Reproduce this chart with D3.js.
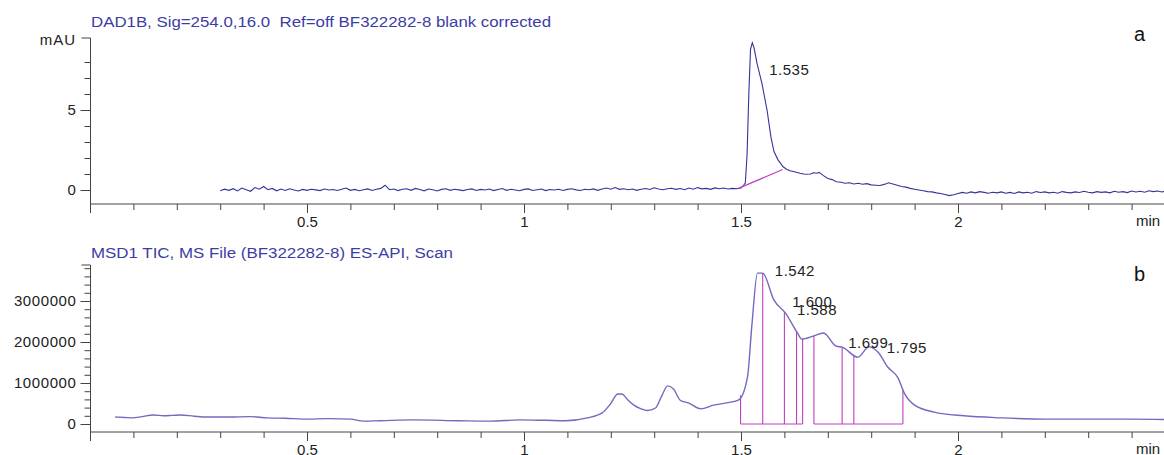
<!DOCTYPE html>
<html>
<head>
<meta charset="utf-8">
<script src="https://cdn.jsdelivr.net/npm/d3@7"></script>
<style>
  body { margin: 0; background: #fff; }
  svg text { font-family: "Liberation Sans", Arial, sans-serif; white-space: pre; }
</style>
</head>
<body>
<div id="plot"></div>
<script>
// DAD 254 nm trace, [min, mAU]
const dadTrace = [
  [0.30,-0.05],[0.31,0.05],[0.32,-0.02],[0.33,0.08],[0.34,-0.06],[0.35,0.12],[0.36,0.02],[0.37,-0.08],[0.38,0.15],[0.39,0.05],
  [0.40,0.22],[0.41,0.02],[0.42,0.10],[0.43,-0.05],[0.44,0.06],[0.45,-0.03],[0.46,0.08],[0.47,0.00],[0.48,-0.06],[0.49,0.04],
  [0.50,-0.02],[0.51,0.05],[0.52,0.01],[0.53,-0.04],[0.54,0.06],[0.55,0.00],[0.56,0.03],[0.57,-0.03],[0.58,0.05],[0.59,0.12],
  [0.60,-0.02],[0.61,0.04],[0.62,-0.05],[0.63,0.02],[0.64,0.07],[0.65,-0.03],[0.66,0.05],[0.67,0.10],[0.68,0.30],[0.69,0.02],
  [0.70,0.06],[0.71,-0.04],[0.72,0.05],[0.73,0.08],[0.74,-0.02],[0.75,0.10],[0.76,0.03],[0.77,-0.05],[0.78,0.06],[0.79,0.02],
  [0.80,-0.06],[0.81,0.04],[0.82,0.08],[0.83,-0.02],[0.84,0.05],[0.85,0.01],[0.86,-0.04],[0.87,0.03],[0.88,0.07],[0.89,-0.03],
  [0.90,0.04],[0.91,0.00],[0.92,0.06],[0.93,-0.04],[0.94,0.03],[0.95,0.09],[0.96,-0.02],[0.97,0.05],[0.98,0.00],[0.99,-0.05],
  [1.00,0.04],[1.01,0.07],[1.02,-0.03],[1.03,0.02],[1.04,0.06],[1.05,-0.04],[1.06,0.03],[1.07,0.00],[1.08,0.05],[1.09,-0.03],
  [1.10,0.04],[1.11,0.08],[1.12,0.01],[1.13,-0.03],[1.14,0.05],[1.15,0.02],[1.16,0.07],[1.17,-0.02],[1.18,0.06],[1.19,0.12],
  [1.20,0.05],[1.21,0.15],[1.22,0.04],[1.23,0.08],[1.24,0.02],[1.25,0.06],[1.26,-0.02],[1.27,0.05],[1.28,0.09],[1.29,0.03],
  [1.30,0.14],[1.31,0.06],[1.32,0.02],[1.33,0.08],[1.34,0.11],[1.35,0.04],[1.36,0.09],[1.37,0.02],[1.38,0.12],[1.39,0.05],
  [1.40,0.15],[1.41,0.07],[1.42,0.10],[1.43,0.04],[1.44,0.13],[1.45,0.08],[1.46,0.12],[1.47,0.06],[1.48,0.10],[1.49,0.08],
  [1.50,0.12],[1.505,0.25],[1.51,0.45],[1.514,2.2],[1.518,6.0],[1.522,8.8],[1.526,9.2],[1.53,8.9],[1.537,7.9],[1.548,6.7],
  [1.56,5.0],[1.569,3.3],[1.576,2.4],[1.585,1.9],[1.597,1.45],[1.605,1.3],[1.613,1.2],[1.625,1.12],[1.636,1.05],[1.645,1.0],
  [1.65,0.98],[1.66,1.0],[1.667,1.08],[1.675,1.05],[1.68,1.1],[1.69,0.9],[1.70,0.72],[1.71,0.65],[1.72,0.52],[1.73,0.48],
  [1.74,0.42],[1.75,0.45],[1.76,0.38],[1.77,0.42],[1.78,0.36],[1.79,0.40],[1.80,0.32],[1.81,0.30],[1.82,0.28],[1.83,0.35],
  [1.84,0.45],[1.85,0.38],[1.86,0.30],[1.87,0.22],[1.88,0.18],[1.89,0.10],[1.90,0.05],[1.91,0.00],[1.92,-0.05],[1.93,-0.10],
  [1.94,-0.12],[1.95,-0.18],[1.96,-0.22],[1.97,-0.28],[1.98,-0.35],[1.99,-0.30],[2.00,-0.22],[2.01,-0.15],[2.02,-0.20],[2.03,-0.12],
  [2.04,-0.18],[2.05,-0.10],[2.06,-0.15],[2.07,-0.20],[2.08,-0.14],[2.09,-0.18],[2.10,-0.12],[2.11,-0.20],[2.12,-0.15],[2.13,-0.22],
  [2.14,-0.12],[2.15,-0.18],[2.16,-0.14],[2.17,-0.20],[2.18,-0.10],[2.19,-0.16],[2.20,-0.12],[2.21,-0.18],[2.22,-0.14],[2.23,-0.20],
  [2.24,-0.10],[2.25,-0.15],[2.26,-0.18],[2.27,-0.12],[2.28,-0.16],[2.29,-0.08],[2.30,-0.14],[2.31,-0.18],[2.32,-0.10],[2.33,-0.15],
  [2.34,-0.12],[2.35,-0.18],[2.36,-0.08],[2.37,-0.14],[2.38,-0.10],[2.39,-0.16],[2.40,-0.06],[2.41,-0.12],[2.42,-0.08],[2.43,-0.14],
  [2.44,-0.05],[2.45,-0.10],[2.46,-0.06],[2.47,-0.12],[2.48,-0.05]
];
const dadBaseline = [[1.494,0.10],[1.596,1.28]];
const dadLabels = ["1.535"];
const dadLabelAt = [[1.565,7.19]];

// MSD TIC trace, [min, counts]
const ticTrace = [
  [0.058,170000],[0.08,160000],[0.097,150000],[0.12,180000],[0.146,220000],[0.17,200000],[0.19,210000],[0.208,220000],
  [0.24,190000],[0.27,170000],[0.32,170000],[0.369,180000],[0.408,150000],[0.45,140000],[0.50,120000],[0.55,130000],
  [0.60,120000],[0.63,70000],[0.669,80000],[0.745,100000],[0.85,80000],[0.923,70000],[0.99,100000],[1.05,90000],
  [1.096,80000],[1.146,150000],[1.18,270000],[1.20,500000],[1.216,730000],[1.225,730000],[1.24,580000],[1.253,460000],
  [1.27,370000],[1.284,330000],[1.303,390000],[1.318,700000],[1.331,930000],[1.345,850000],[1.36,580000],[1.38,510000],
  [1.407,370000],[1.437,460000],[1.47,520000],[1.495,590000],[1.515,1150000],[1.525,2400000],[1.538,3680000],[1.55,3680000],
  [1.576,3020000],[1.603,2700000],[1.63,2220000],[1.64,2070000],[1.668,2150000],[1.69,2220000],[1.719,1900000],[1.734,1870000],
  [1.769,1630000],[1.795,1880000],[1.815,1760000],[1.838,1390000],[1.862,1120000],[1.876,760000],[1.90,460000],[1.945,290000],
  [2.014,200000],[2.10,150000],[2.20,120000],[2.30,120000],[2.40,120000],[2.477,110000]
];
// integration slice boundaries (min)
const ticSlices = [[1.499,1.55,1.60,1.628,1.642],[1.668,1.733,1.76,1.873]];
const ticLabels = ["1.542","1.600","1.588","1.699","1.795"];
const ticLabelAt = [[1.578,3610000],[1.618,2850000],[1.629,2660000],[1.747,1850000],[1.836,1730000]];

const xMajor = [0.5,1,1.5,2];
const xMinor = d3.range(0,25).map(i => i/10);
const dadTicks = [0,1,2,3,4,5,6,7,8];
const dadTickLabels = [0,5];
const ticTicks = d3.range(0,20).map(i => i*200000);
const ticTickLabels = [0,1000000,2000000,3000000];

const titleA = "DAD1B, Sig=254.0,16.0  Ref=off BF322282-8 blank corrected";
const titleB = "MSD1 TIC, MS File (BF322282-8) ES-API, Scan";

const blue = "#34349a", lilac = "#7468c0", magenta = "#c23ec2", ink = "#222";

let svg = d3.select('#plot').append('svg')
  .attr('width',1164).attr('height',455);

let xsc = d3.scaleLinear().domain([0,2.5]).range([90,1175]);

function drawX(yPos){
  svg.append('g').attr('transform',`translate(0,${yPos})`)
    .call(d3.axisBottom(xsc).tickValues(xMinor).tickSize(6).tickSizeOuter(0).tickFormat(''))
    .call(g => g.select('.domain').attr('d',`M90,0H1164`));
  let maj = svg.append('g').attr('transform',`translate(0,${yPos})`)
    .call(d3.axisBottom(xsc).tickValues(xMajor).tickSize(9).tickPadding(3).tickFormat(d3.format('')));
  maj.select('.domain').remove();
  maj.selectAll('text').attr('font-size',15).attr('fill',ink).attr('font-family','Liberation Sans, Arial');
  svg.selectAll('g line, g path').attr('stroke','#444');
  svg.append('text').attr('x',1136).attr('y',yPos+22).attr('font-size',15).attr('fill',ink).text('min');
}

function drawY(ysc, ticks, labels, fmt, topY){
  let g = svg.append('g').attr('transform','translate(90.5,0)');
  g.call(d3.axisLeft(ysc).tickValues(ticks).tickSize(6).tickSizeOuter(0).tickFormat(''));
  g.select('.domain').attr('d',`M0,${topY}V${ysc.range()[0]+9}`);
  g.append('line').attr('x1',-9).attr('x2',0).attr('y1',topY).attr('y2',topY).attr('stroke','#444');
  let lab = svg.append('g').attr('transform','translate(90.5,0)')
    .call(d3.axisLeft(ysc).tickValues(labels).tickSize(10).tickPadding(4).tickFormat(fmt));
  lab.select('.domain').remove();
  lab.selectAll('text').attr('font-size',15).attr('fill',ink).attr('letter-spacing',0.6).attr('font-family','Liberation Sans, Arial');
  svg.selectAll('line, path.domain').attr('stroke','#444');
}

// ---- panel a ----
let yA = d3.scaleLinear().domain([-0.875,9.5]).range([204,38]);
drawY(yA, dadTicks, dadTickLabels, d3.format('d'), 38);
svg.append('text').attr('x',76).attr('y',45).attr('text-anchor','end')
   .attr('font-size',15).attr('letter-spacing',1).attr('fill',ink).text('mAU');
drawX(204);

svg.append('text').attr('x',91).attr('y',27).attr('font-size',14).attr('fill','#3c3ca6')
   .attr('textLength',460).attr('lengthAdjust','spacingAndGlyphs').text(titleA);

let lineA = d3.line().x(d => xsc(d[0])).y(d => yA(d[1]));
svg.append('path').datum(dadTrace).attr('d',lineA)
   .attr('fill','none').attr('stroke',blue).attr('stroke-width',1.1);
svg.append('path').datum(dadBaseline).attr('d',lineA)
   .attr('fill','none').attr('stroke',magenta).attr('stroke-width',1.2);
svg.selectAll('.lblA').data(dadLabels).join('text')
   .attr('x',(d,i) => xsc(dadLabelAt[i][0])).attr('y',(d,i) => yA(dadLabelAt[i][1]))
   .attr('font-size',15).attr('letter-spacing',0.5).attr('fill',ink).text(d => d);

// ---- panel b ----
let yB = d3.scaleLinear().domain([-195000,3878000]).range([432,265]);
drawY(yB, ticTicks, ticTickLabels, d3.format('d'), 265);
drawX(432);

svg.append('text').attr('x',91).attr('y',258).attr('font-size',14).attr('fill','#3c3ca6')
   .attr('textLength',362).attr('lengthAdjust','spacingAndGlyphs').text(titleB);

let lineB = d3.line().x(d => xsc(d[0])).y(d => yB(d[1]));
let bisect = d3.bisector(d => d[0]).left;
function ticAt(t){
  let i = bisect(ticTrace, t);
  let a = ticTrace[i-1], b = ticTrace[i];
  return a[1] + (b[1]-a[1])*(t-a[0])/(b[0]-a[0]);
}
let slices = svg.append('g').attr('stroke',magenta).attr('stroke-width',1.1).attr('fill','none');
ticSlices.forEach(s => {
  slices.append('line').attr('x1',xsc(s[0])).attr('x2',xsc(s[s.length-1]))
    .attr('y1',yB(0)).attr('y2',yB(0));
  slices.selectAll(null).data(s).join('line')
    .attr('x1',d => xsc(d)).attr('x2',d => xsc(d))
    .attr('y1',yB(0)).attr('y2',d => yB(ticAt(d)));
});
svg.append('path').datum(ticTrace).attr('d',lineB.curve(d3.curveMonotoneX))
   .attr('fill','none').attr('stroke',lilac).attr('stroke-width',1.4);
svg.selectAll('.lblB').data(ticLabels).join('text')
   .attr('x',(d,i) => xsc(ticLabelAt[i][0])).attr('y',(d,i) => yB(ticLabelAt[i][1]))
   .attr('font-size',15).attr('letter-spacing',0.5).attr('fill',ink).text(d => d);

// panel letters
svg.append('text').attr('x',1134).attr('y',41).attr('font-family','Liberation Serif, Times New Roman, serif')
   .attr('font-size',20).attr('fill','#111').text('a');
svg.append('text').attr('x',1134).attr('y',281).attr('font-family','Liberation Serif, Times New Roman, serif')
   .attr('font-size',20).attr('fill','#111').text('b');
</script>
</body>
</html>
